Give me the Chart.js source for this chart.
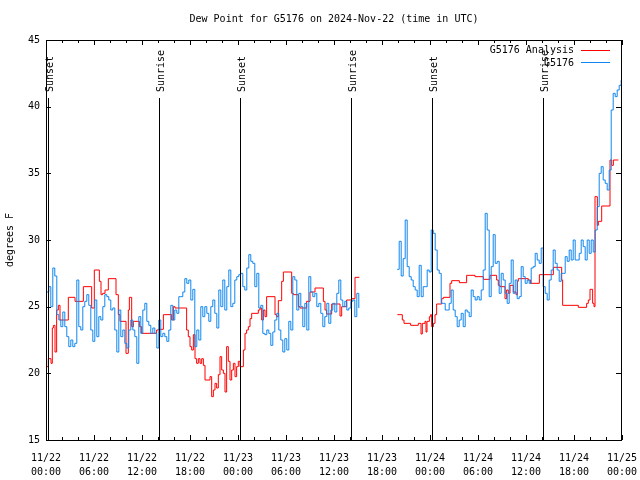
<!DOCTYPE html>
<html lang="en">
<head>
<meta charset="UTF-8">
<title>Dew Point for G5176</title>
<script src="https://cdn.jsdelivr.net/npm/chart.js"></script>
<style>
  html, body { margin: 0; padding: 0; background: #ffffff; }
  #chart { display: block; }
</style>
</head>
<body>
<canvas id="chart" width="640" height="480"></canvas>
<script>
// all times are hours since 2024-11-22 00:00 UTC
const xTickLabels = [
  ['11/22', '00:00'], ['11/22', '06:00'], ['11/22', '12:00'], ['11/22', '18:00'],
  ['11/23', '00:00'], ['11/23', '06:00'], ['11/23', '12:00'], ['11/23', '18:00'],
  ['11/24', '00:00'], ['11/24', '06:00'], ['11/24', '12:00'], ['11/24', '18:00'],
  ['11/25', '00:00']
];

const eventHours  = [0.29, 14.16, 24.29, 38.16, 48.29, 62.16];
const eventLabels = ['Sunset', 'Sunrise', 'Sunset', 'Sunrise', 'Sunset', 'Sunrise'];

// G5176 station obs, one reading every 15 min, two pieces around the outage
const obsStep = 0.25;
const obsStartA = 0.1;
const obsValuesA = [
  26.1, 26.5, 25.0, 27.9, 27.3, 24.4, 24.0, 23.5, 24.6, 23.5,
  22.75, 22.0, 22.5, 22.0, 22.25, 27.0, 23.5, 23.25, 25.0, 25.4,
  25.9, 25.1, 23.25, 22.4, 25.5, 22.75, 24.25, 24.0, 25.0, 25.9,
  25.75, 25.5, 24.75, 24.9, 23.25, 21.6, 24.75, 22.75, 23.25, 22.25,
  21.9, 23.25, 24.0, 23.25, 22.75, 20.75, 24.25, 23.0, 24.75, 25.25,
  23.9, 23.6, 23.0, 23.4, 23.0, 21.9, 24.0, 22.75, 23.0, 22.75,
  22.4, 23.25, 25.1, 24.0, 24.75, 24.5, 25.75, 25.75, 26.1, 27.1,
  26.75, 27.0, 25.5, 26.3, 22.0, 23.25, 22.5, 25.0, 24.25, 25.0,
  24.5, 23.9, 25.0, 25.5, 24.5, 23.4, 26.25, 25.0, 27.0, 24.75,
  26.5, 27.75, 25.0, 25.25, 27.0, 27.25, 27.4, 27.5, 26.5, 26.25,
  27.9, 28.9, 28.4, 28.25, 26.5, 27.5, 24.9, 25.1, 23.0, 22.9,
  23.25, 23.0, 22.1, 23.1, 24.0, 24.5, 23.25, 22.5, 21.6, 22.6,
  21.75, 23.9, 23.25, 27.25, 27.0, 24.75, 26.0, 25.0, 23.5, 25.25,
  23.25, 27.25, 26.1, 25.75, 26.0, 25.0, 25.25, 24.5, 23.5, 24.25,
  25.25, 23.75, 24.75, 25.25, 24.6, 26.0, 27.0, 25.5, 25.0, 25.4,
  24.75, 24.9, 25.4, 25.5, 24.25, 26.0, 24.9
];
const obsStartB = 43.9;
const obsValuesB = [
  27.8, 29.9, 27.3, 28.6, 31.5, 28.0, 27.25, 27.0, 26.5, 26.25,
  25.75, 28.1, 25.75, 26.5, 26.5, 27.75, 27.6, 30.75, 30.5, 29.25,
  27.75, 27.5, 25.25, 25.25, 24.75, 24.75, 25.25, 26.25, 24.75, 24.25,
  23.5, 24.0, 24.5, 23.5, 24.75, 24.6, 24.25, 26.25, 25.75, 25.5,
  25.75, 25.5, 26.25, 27.75, 32.0, 30.75, 25.75, 28.0, 30.4, 28.25,
  28.4, 26.0, 27.5, 27.0, 26.0, 25.25, 26.75, 28.5, 26.0, 27.0,
  25.6, 25.75, 28.0, 27.25, 26.75, 27.0, 26.75, 27.9, 28.0, 29.0,
  28.5, 28.25, 29.4, 26.5, 26.0, 25.5, 27.0, 27.75, 29.25, 28.25,
  27.75, 26.9, 27.5, 27.5, 28.75, 28.4, 29.25, 28.5, 30.0, 28.5,
  28.5, 29.0, 30.0, 29.5, 28.5, 30.0, 29.0, 30.0, 29.1, 30.75,
  32.5, 35.0, 35.5, 34.5, 34.25, 33.75, 35.25, 39.75, 41.0, 40.75,
  41.25, 41.6, 42.0
];

// G5176 Analysis, value changes (null = no analysis)
const anaHours = [
  0.08, 0.29, 0.625, 0.79, 0.92, 1.125, 1.33, 1.54, 1.75, 2.79,
  3.625, 4.67, 5.71, 6.04, 6.67, 6.875, 7.08, 7.375, 7.79, 8.75,
  9.04, 9.25, 10.0, 10.29, 10.42, 10.71, 10.92, 11.67, 11.96, 13.83,
  14.04, 14.67, 15.71, 15.92, 16.125, 17.58, 17.79, 18.0, 18.21, 18.42,
  18.625, 18.83, 19.04, 19.25, 19.46, 19.67, 19.875, 20.5, 20.71, 20.92,
  21.125, 21.33, 21.54, 21.75, 21.96, 22.17, 22.375, 22.58, 22.79, 23.0,
  23.21, 23.42, 23.625, 23.83, 24.04, 24.25, 24.67, 24.875, 25.08, 25.29,
  25.5, 25.71, 26.54, 26.75, 26.96, 27.17, 27.375, 27.58, 28.625, 28.83,
  29.04, 29.46, 29.67, 30.71, 30.92, 31.54, 31.75, 32.58, 33.0, 33.625,
  34.67, 34.875, 35.08, 35.71, 36.75, 36.96, 37.58, 38.21, 38.625, 39.17,
  41.0,
  43.92, 44.54, 44.75, 45.58, 46.54, 46.875, 47.04, 47.375, 47.5, 47.625,
  47.92, 48.08, 48.21, 48.42, 48.625, 48.83, 49.46, 49.67, 50.5, 50.71,
  51.67, 52.58, 53.625, 54.67, 55.5, 56.33, 56.54, 56.75, 57.375, 57.58,
  57.79, 58.0, 58.42, 58.75, 58.92, 59.04, 60.29, 60.58, 61.67, 63.42,
  64.46, 64.58, 66.54, 67.58, 67.79, 68.0, 68.33, 68.5, 68.625, 68.92,
  69.04, 69.46, 70.5, 70.71, 70.92, 71.54
];
const anaValues = [
  20.5, 21.1, 20.75, 23.4, 23.6, 21.6, 24.75, 25.1, 24.0, 25.7,
  25.4, 26.5, 24.9, 27.75, 26.9, 25.9, 26.0, 26.25, 27.1, 25.9,
  24.4, 23.9, 21.5, 24.75, 25.7, 23.5, 23.9, 23.5, 23.0, 23.25,
  23.3, 24.4, 24.0, 25.0, 24.9, 23.25, 22.75, 22.0, 21.75, 22.9,
  21.1, 20.75, 21.1, 20.75, 21.1, 20.6, 19.5, 19.75, 18.25, 18.75,
  19.25, 18.9, 19.9, 21.25, 20.25, 20.0, 18.6, 22.0, 20.9, 19.5,
  20.25, 20.75, 19.75, 20.5, 20.9, 20.5, 21.75, 23.0, 23.25, 23.5,
  24.1, 24.5, 24.75, 24.9, 24.0, 24.75, 24.25, 25.75, 24.4, 24.25,
  25.45, 26.9, 27.6, 26.0, 25.9, 25.0, 24.9, 25.4, 26.1, 26.4,
  25.4, 24.75, 24.45, 25.2, 24.3, 25.0, 25.5, 25.6, 27.2, 27.2,
  null,
  24.4, 24.0, 23.75, 23.6, 23.75, 22.95, 23.75, 23.9, 23.1, 23.9,
  24.25, 24.4, 23.5, 23.75, 24.4, 25.2, 25.6, 25.7, 26.75, 26.95,
  26.8, 27.35, 27.25, 27.05, 27.35, 27.0, 26.6, 26.5, 25.6, 26.25,
  26.0, 26.6, 26.1, 25.9, 26.9, 27.1, 27.0, 26.75, 27.4, 27.95,
  27.0, 25.1, 24.95, 25.25, 25.5, 26.3, 25.25, 25.0, 33.25, 31.1,
  31.4, 32.55, 36.0, 35.6, 36.0, 36.0
];

const FONT = "'DejaVu Sans Mono', monospace";
const RED = '#ff0000';
const BLUE = '#0f86f2';

const obsPoints = [];
obsValuesA.forEach((v, i) => obsPoints.push({ x: obsStartA + i * obsStep, y: v }));
obsPoints.push({ x: 41, y: null });
obsValuesB.forEach((v, i) => obsPoints.push({ x: obsStartB + i * obsStep, y: v }));

const anaPoints = anaHours.map((h, i) => ({ x: h, y: anaValues[i] }));

// gnuplot-ish decorations: frame, inward ticks, sun lines, title, legend
const decor = {
  id: 'decor',
  afterDatasetsDraw(chart) {
    const { ctx, chartArea: a, scales: { x, y } } = chart;
    ctx.save();
    ctx.strokeStyle = '#000';
    ctx.fillStyle = '#000';
    ctx.lineWidth = 1;
    ctx.font = '10px ' + FONT;

    // sunrise / sunset
    eventHours.forEach((h, i) => {
      const px = Math.round(x.getPixelForValue(h)) + 0.5;
      ctx.beginPath();
      ctx.moveTo(px, a.top + 58);
      ctx.lineTo(px, a.bottom);
      ctx.stroke();
      ctx.save();
      ctx.translate(px + 1.5, a.top + 52);
      ctx.rotate(-Math.PI / 2);
      ctx.textAlign = 'left';
      ctx.textBaseline = 'middle';
      ctx.fillText(eventLabels[i], 0, 0);
      ctx.restore();
    });

    // frame
    ctx.strokeRect(a.left + 0.5, a.top + 0.5, a.right - a.left - 1, a.bottom - a.top);

    // x ticks every 2 h, top and bottom
    ctx.beginPath();
    for (let h = 0; h <= 72; h += 2) {
      const px = Math.round(x.getPixelForValue(h)) + 0.5;
      const len = h % 6 === 0 ? 5 : 3;
      ctx.moveTo(px, a.bottom);
      ctx.lineTo(px, a.bottom - len);
      ctx.moveTo(px, a.top);
      ctx.lineTo(px, a.top + len);
    }
    // y ticks, left and right
    for (let v = 15; v <= 45; v += 5) {
      const py = Math.round(y.getPixelForValue(v)) + 0.5;
      ctx.moveTo(a.left, py);
      ctx.lineTo(a.left + 5, py);
      ctx.moveTo(a.right - 1, py);
      ctx.lineTo(a.right - 6, py);
    }
    ctx.stroke();

    // title
    ctx.textAlign = 'center';
    ctx.textBaseline = 'middle';
    ctx.fillText('Dew Point for G5176 on 2024-Nov-22 (time in UTC)', (a.left + a.right) / 2, 19);

    // y axis title
    ctx.save();
    ctx.translate(10, (a.top + a.bottom) / 2);
    ctx.rotate(-Math.PI / 2);
    ctx.fillText('degrees F', 0, 0);
    ctx.restore();

    // legend
    ctx.textAlign = 'right';
    ctx.fillText('G5176 Analysis', a.right - 48, a.top + 10);
    ctx.fillText('G5176', a.right - 48, a.top + 23);
    ctx.strokeStyle = RED;
    ctx.beginPath();
    ctx.moveTo(a.right - 41, a.top + 10.5);
    ctx.lineTo(a.right - 12, a.top + 10.5);
    ctx.stroke();
    ctx.strokeStyle = BLUE;
    ctx.beginPath();
    ctx.moveTo(a.right - 41, a.top + 22.5);
    ctx.lineTo(a.right - 12, a.top + 22.5);
    ctx.stroke();

    ctx.restore();
  }
};

Chart.defaults.color = '#000';
Chart.defaults.font.family = FONT;
Chart.defaults.font.size = 10;

new Chart(document.getElementById('chart'), {
  type: 'line',
  data: {
    datasets: [
      {
        label: 'G5176',
        data: obsPoints,
        borderColor: BLUE,
        backgroundColor: BLUE,
        borderWidth: 1,
        pointRadius: 0,
        stepped: true,
        spanGaps: false
      },
      {
        label: 'G5176 Analysis',
        data: anaPoints,
        borderColor: RED,
        backgroundColor: RED,
        borderWidth: 1,
        pointRadius: 0,
        stepped: true,
        spanGaps: false
      }
    ]
  },
  options: {
    responsive: false,
    animation: false,
    devicePixelRatio: 1,
    layout: { padding: { top: 40, right: 18, left: 0, bottom: 0 } },
    plugins: { legend: { display: false }, tooltip: { enabled: false } },
    scales: {
      x: {
        type: 'linear',
        min: 0,
        max: 72,
        afterFit: (s) => { s.height = 40; s.paddingLeft = 0; s.paddingRight = 0; },
        grid: { display: false, drawTicks: false },
        border: { display: false },
        ticks: {
          stepSize: 6,
          autoSkip: false,
          maxRotation: 0,
          padding: 12,
          font: { family: FONT, size: 10, lineHeight: 1.35 },
          callback: (v) => xTickLabels[Math.round(v / 6)]
        }
      },
      y: {
        min: 15,
        max: 45,
        afterFit: (s) => { s.width = 46; s.paddingTop = 0; s.paddingBottom = 0; },
        grid: { display: false, drawTicks: false },
        border: { display: false },
        ticks: { stepSize: 5, padding: 6, font: { family: FONT, size: 10 } }
      }
    }
  },
  plugins: [decor]
});
</script>
</body>
</html>
